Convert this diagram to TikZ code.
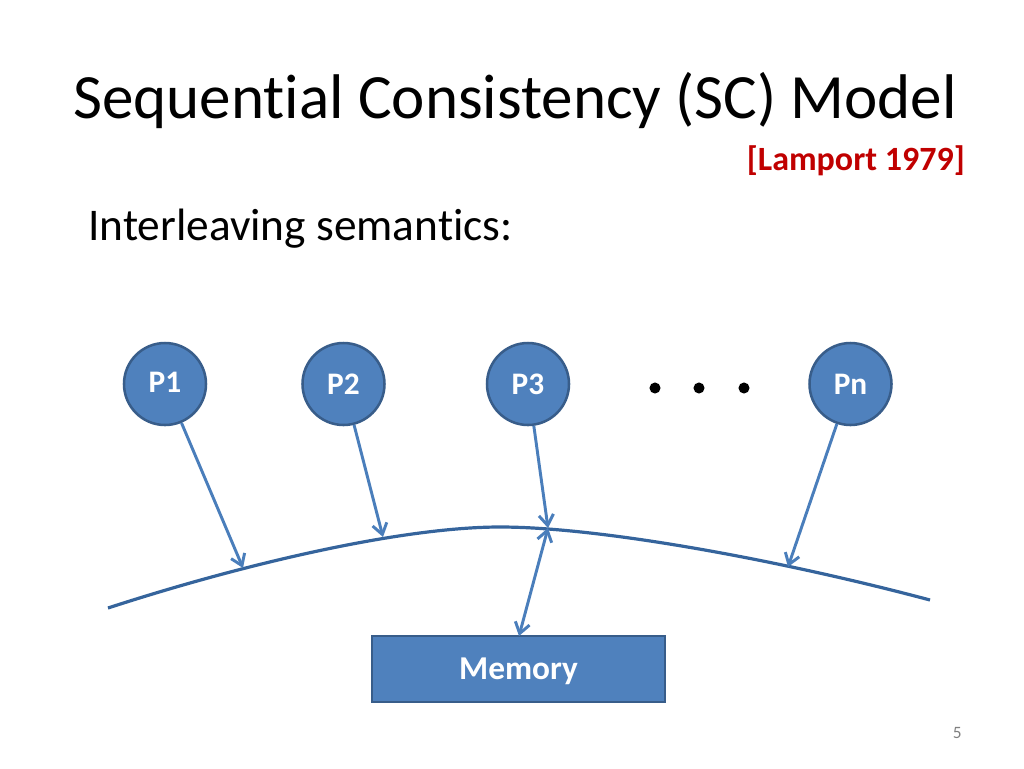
\documentclass[tikz,border=0pt]{standalone}
\usepackage{fontspec}
\setmainfont{Carlito}[Ligatures={NoCommon}]
\usetikzlibrary{arrows.meta}
\definecolor{pfill}{HTML}{4F81BD}
\definecolor{pline}{HTML}{385D8A}
\definecolor{arr}{HTML}{4A7EBB}
\definecolor{curve}{HTML}{35649C}
\definecolor{lred}{HTML}{C00000}
\tikzset{
  proc/.style={circle, fill=pfill, draw=pline, line width=1.9pt, minimum size=61.5pt, inner sep=0pt,
    text=white, font=\fontsize{23.5}{28}\selectfont\bfseries},
  membox/.style={rectangle, fill=pfill, draw=pline, line width=1.9pt, minimum width=220pt, minimum height=49.5pt,
    inner sep=0pt, text=white, text depth=0pt, font=\fontsize{25}{30}\selectfont\bfseries},
  conn/.style={draw=arr, line width=2.2pt, -{Straight Barb[length=8pt,width=11pt]}},
  dconn/.style={draw=arr, line width=2.2pt, {Straight Barb[length=8pt,width=11pt]}-{Straight Barb[length=8pt,width=11pt]}},
  dotm/.style={circle, fill=black, minimum size=8.3pt, inner sep=0pt}
}
\begin{document}
\begin{tikzpicture}[x=0.75pt,y=-0.75pt]
\useasboundingbox (0,0) rectangle (1024,768);
\node[anchor=base west, inner sep=0pt, font=\fontsize{47.3}{56}\selectfont] (title) at (73,118) {Sequential Consistency (SC) Model};
\node[anchor=base east, inner sep=0pt, text=lred, font=\fontsize{25.5}{30}\selectfont\bfseries] (ref) at (965,170) {[Lamport 1979]};
\node[anchor=base west, inner sep=0pt, font=\fontsize{34}{40}\selectfont] (sub) at (88,240) {Interleaving semantics:};
\node[anchor=base east, inner sep=0pt, text=gray, font=\fontsize{13}{15}\selectfont] (pg) at (962,738) {5};

\node[proc] (P1) at (165,384) {\raisebox{2pt}{P1}};
\node[proc] (P2) at (343.5,384) {\raisebox{-1pt}{P2}};
\node[proc] (P3) at (528,384) {\raisebox{-1pt}{P3}};
\node[proc] (Pn) at (850.5,384) {\raisebox{-1pt}{Pn}};
\node[dotm] (d1) at (655,388) {};
\node[dotm] (d2) at (699,388) {};
\node[dotm] (d3) at (744,388) {};

\draw[curve, line width=2.4pt] (108,608) .. controls (240,565) and (400,527) .. (500,527)
  .. controls (600,527) and (780,560) .. (930,600);
\coordinate (c1) at (243,568);
\coordinate (c2) at (383,537);
\coordinate (c3) at (548,528);
\coordinate (cn) at (788,567);

\node[membox] (Mem) at (518.5,669) {Memory};
\coordinate (mtop) at (519,636);

\draw[conn] (P1) -- (c1);
\draw[conn] (P2) -- (c2);
\draw[conn] (P3) -- (c3);
\draw[conn] (Pn) -- (cn);
\draw[dconn] (mtop) -- (c3);
\end{tikzpicture}
\end{document}
